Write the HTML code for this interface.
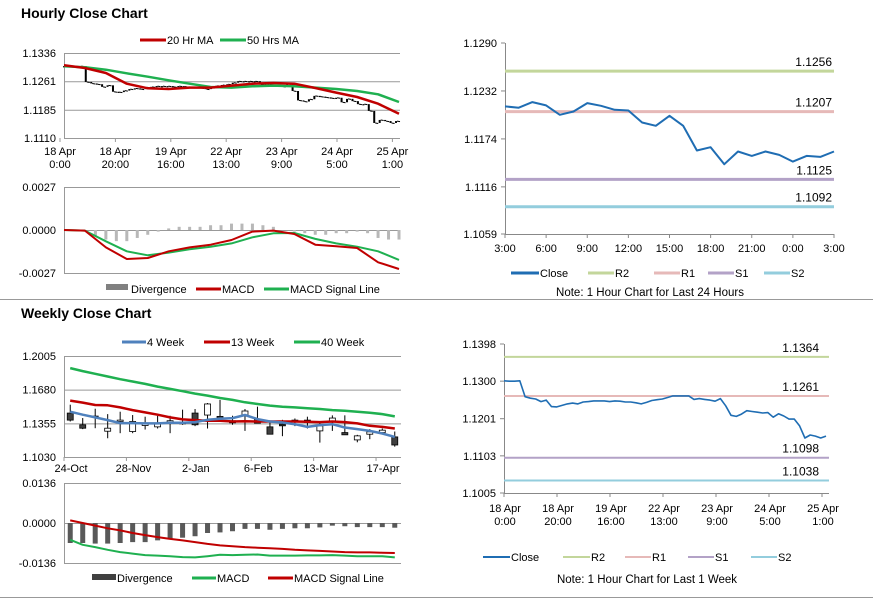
<!DOCTYPE html>
<html><head><meta charset="utf-8">
<style>
html,body{margin:0;padding:0;background:#fff;}
svg{display:block;font-family:"Liberation Sans",Arial,sans-serif;}
</style></head>
<body>
<svg id="c" width="873" height="601" viewBox="0 0 873 601"></svg>
<script>
const hourlyClose=[1.1301,1.1300,1.1300,1.1301,1.1259,1.1255,1.1253,1.1246,1.1250,1.1233,1.1232,1.1236,1.1240,1.1242,1.1240,1.1245,1.1246,1.1248,1.1248,1.1248,1.1246,1.1248,1.1247,1.1245,1.1245,1.1243,1.1240,1.1244,1.1249,1.1251,1.1253,1.1257,1.1261,1.1261,1.1261,1.1261,1.1252,1.1254,1.1252,1.1250,1.1247,1.1254,1.1235,1.1210,1.1207,1.1213,1.1222,1.1220,1.1218,1.1216,1.1217,1.1205,1.1214,1.1208,1.1200,1.1200,1.1182,1.1150,1.1158,1.1155,1.1150,1.1155];
const ma20=[1.13032,1.12961,1.12828,1.12545,1.12421,1.12403,1.12439,1.12439,1.12492,1.12545,1.12563,1.12545,1.1243,1.12306,1.1219,1.12013,1.11747];
const ma50=[1.13006,1.12979,1.12917,1.1282,1.12731,1.12634,1.12545,1.12456,1.12439,1.12474,1.12492,1.12474,1.12439,1.12403,1.1235,1.12261,1.12058];
const hMacd=[0,-0.00004,-0.00109,-0.00182,-0.00176,-0.00134,-0.00109,-0.00092,-0.00063,-0.0001,-0.00004,-0.00025,-0.00092,-0.00102,-0.00113,-0.00203,-0.00245];
const hSignal=[0,-0.00004,-0.00071,-0.00134,-0.00159,-0.00142,-0.00121,-0.00105,-0.00084,-0.00046,-0.00021,-0.00019,-0.00056,-0.00084,-0.00105,-0.00134,-0.00188];
const hDiv=[0,0,-0.0001,-0.0004,-0.0006,-0.0007,-0.0007,-0.0005,-0.0003,-0.0001,0.0001,0.0002,0.0002,0.0002,0.0003,0.0003,0.0004,0.0004,0.0004,0.0003,0.0002,0,-0.0001,-0.0002,-0.0003,-0.0003,-0.0002,-0.0002,-0.0001,-0.0002,-0.0005,-0.0006,-0.0006];
const hourTicks=[["18 Apr","0:00"],["18 Apr","20:00"],["19 Apr","16:00"],["22 Apr","13:00"],["23 Apr","9:00"],["24 Apr","5:00"],["25 Apr","1:00"]];
const dayClose=[1.12133,1.12117,1.12185,1.12145,1.12032,1.12072,1.12173,1.12141,1.12092,1.12084,1.11939,1.11898,1.1202,1.11898,1.116,1.1164,1.11434,1.11588,1.11535,1.11588,1.11547,1.11466,1.11535,1.11523,1.11588];
const dayTicks=["3:00","6:00","9:00","12:00","15:00","18:00","21:00","0:00","3:00"];
const dayLevels=[1.1256,1.1207,1.1125,1.1092];
const weekLevels=[1.1364,1.1261,1.1098,1.1038];
const wOpen=[1.1454,1.1341,1.1425,1.1279,1.1373,1.1276,1.1334,1.1321,1.1367,1.1351,1.1454,1.1435,1.1422,1.1380,1.1428,1.1396,1.1321,1.1347,1.1386,1.1386,1.1282,1.1373,1.1266,1.1195,1.1250,1.1266,1.1224];
const wHigh=[1.1535,1.1406,1.1496,1.1444,1.1467,1.1435,1.1419,1.1428,1.1428,1.1487,1.1493,1.1551,1.1581,1.1428,1.1493,1.1516,1.1380,1.1389,1.1402,1.1419,1.1370,1.1432,1.1432,1.1244,1.1299,1.1305,1.1276];
const wLow=[1.1373,1.1299,1.1308,1.1211,1.1260,1.1260,1.1295,1.1305,1.1260,1.1341,1.1328,1.1305,1.1396,1.1341,1.1282,1.1357,1.1250,1.1231,1.1328,1.1305,1.1169,1.1282,1.1244,1.1172,1.1202,1.1250,1.1130];
const wClose=[1.1386,1.1308,1.1415,1.1308,1.1386,1.1373,1.1354,1.1354,1.1380,1.1360,1.1341,1.1542,1.1406,1.1360,1.1474,1.1357,1.1250,1.1331,1.1380,1.1363,1.1331,1.1406,1.1244,1.1234,1.1273,1.1289,1.1146];
const wk4=[1.1467,1.1438,1.1412,1.1386,1.1357,1.1357,1.1354,1.1354,1.1360,1.1360,1.1367,1.1389,1.1399,1.1406,1.1435,1.1396,1.1373,1.1363,1.1347,1.1321,1.1338,1.1347,1.1315,1.1299,1.1282,1.1257,1.1224];
const wk13=[1.1574,1.1555,1.1532,1.1529,1.1509,1.1483,1.1461,1.1438,1.1412,1.1393,1.1386,1.1380,1.1380,1.1373,1.1376,1.1373,1.1373,1.1373,1.1373,1.1370,1.1367,1.1373,1.1367,1.1354,1.1331,1.1321,1.1305];
const wk40=[1.1888,1.1859,1.1833,1.1807,1.1781,1.1759,1.1736,1.1710,1.1687,1.1665,1.1642,1.1623,1.1600,1.1581,1.1558,1.1542,1.1526,1.1516,1.1509,1.1500,1.1493,1.1483,1.1477,1.1467,1.1457,1.1444,1.1422];
const wDiv=[-0.0068,-0.0068,-0.0070,-0.0070,-0.0068,-0.0065,-0.0065,-0.0059,-0.0054,-0.0050,-0.0045,-0.0034,-0.0032,-0.0028,-0.0020,-0.0020,-0.0023,-0.0020,-0.0018,-0.0018,-0.0015,-0.0009,-0.0011,-0.0014,-0.0014,-0.0014,-0.0016];
const wMacd=[-0.0057,-0.0074,-0.0082,-0.0091,-0.0099,-0.0104,-0.0109,-0.0111,-0.0113,-0.0116,-0.0117,-0.0113,-0.0108,-0.0109,-0.0108,-0.0107,-0.0111,-0.0111,-0.0111,-0.0110,-0.0110,-0.0109,-0.0111,-0.0113,-0.0113,-0.0113,-0.0117];
const wSignal=[0.0009,0,-0.0009,-0.0018,-0.0025,-0.0034,-0.0041,-0.0048,-0.0054,-0.0059,-0.0065,-0.0071,-0.0076,-0.0079,-0.0082,-0.0084,-0.0086,-0.0088,-0.0091,-0.0093,-0.0095,-0.0097,-0.0099,-0.0100,-0.0100,-0.0101,-0.0102];
const wTicks=["24-Oct","28-Nov","2-Jan","6-Feb","13-Mar","17-Apr"];

const svg=document.getElementById('c');
const NS='http://www.w3.org/2000/svg';
function el(tag,attrs,parent){const e=document.createElementNS(NS,tag);for(const k in attrs)e.setAttribute(k,attrs[k]);(parent||svg).appendChild(e);return e;}
function lin(d0,d1,r0,r1){return v=>r0+(v-d0)/(d1-d0)*(r1-r0);}
function txt(x,y,s,opt){const t=el('text',Object.assign({x:x,y:y,'font-size':11,fill:'#000'},opt||{}));t.textContent=s;return t;}
function pathOf(arr,fx,fy){return arr.map((v,i)=>(i?'L':'M')+fx(i).toFixed(1)+' '+fy(v).toFixed(1)).join(' ');}
function line(arr,fx,fy,color,w,name){const p=el('path',{d:pathOf(arr,fx,fy),fill:'none',stroke:color,'stroke-width':w,'stroke-linejoin':'round'});


return p;}
function legendLine(x,y,w,color,label,name,th){const g=el('g',{});


el('line',{x1:x,y1:y-4,x2:x+w,y2:y-4,stroke:color,'stroke-width':th||3},g);const t=txt(x+w+1,y,label);g.appendChild(t);}
function hgrid(y,x1,x2,c){el('line',{x1:x1,y1:y,x2:x2,y2:y,stroke:c||'#999','stroke-width':1});}

hgrid(299.5,0,873,'#999');hgrid(597.5,0,873,'#999');
let t=txt(21,18,'Hourly Close Chart',{'font-size':14,'font-weight':'bold'});


t=txt(21,318,'Weekly Close Chart',{'font-size':14,'font-weight':'bold'});



(function(){
const X0=64,X1=400;const fy=lin(1.1110,1.1336,138,53);
['1.1336','1.1261','1.1185','1.1110'].forEach(s=>{const v=+s;hgrid(fy(v)+0.5,X0,X1);txt(56,fy(v)+4,s,{'text-anchor':'end'});});
el('line',{x1:X0+0.5,y1:53,x2:X0+0.5,y2:138,stroke:'#999'});
hourTicks.forEach((tk,i)=>{const x=60+i*55.4;el('line',{x1:x,y1:138,x2:x,y2:142,stroke:'#999'});txt(x,155,tk[0],{'text-anchor':'middle'});txt(x,168,tk[1],{'text-anchor':'middle'});});
const fx=lin(0,hourlyClose.length-1,64,396);
hourlyClose.forEach((v,i)=>{const p=i?hourlyClose[i-1]:v;const y1=Math.min(fy(p),fy(v)),h=Math.max(1.2,Math.abs(fy(p)-fy(v)));
const r=el('rect',{x:fx(i)-1,y:y1,width:2,height:h,fill:'#000'});


el('line',{x1:fx(i)+1,y1:fy(v),x2:fx(i)+4,y2:fy(v)+0.5,stroke:'#000','stroke-width':1});});
const fm=lin(0,16,64,399);
line(ma50,fm,fy,'#1fb050',2.5,'ma-50-line');
line(ma20,fm,fy,'#c00000',2.5,'ma-20-line');
legendLine(140,44,26,'#c00000','20 Hr MA','legend-ma20');
legendLine(220,44,26,'#1fb050','50 Hrs MA','legend-ma50');
})();

(function(){
const X0=64,X1=400;const fy=lin(-0.0027,0.0027,273,187);
[['0.0027',0.0027],['0.0000',0],['-0.0027',-0.0027]].forEach(a=>{hgrid(fy(a[1])+0.5,X0,X1);txt(56,fy(a[1])+4,a[0],{'text-anchor':'end'});});
el('line',{x1:X0+0.5,y1:187,x2:X0+0.5,y2:273,stroke:'#999'});
const fd=lin(0,hDiv.length-1,64,399);
hDiv.forEach((v,i)=>{const y=Math.min(fy(0),fy(v)),h=Math.abs(fy(v)-fy(0));
const r=el('rect',{x:fd(i)-1.5,y:y,width:3,height:h,fill:'#b8b8b8'});

});
const fm=lin(0,16,64,399);
line(hSignal,fm,fy,'#1fb050',2,'hourly-signal-line');
line(hMacd,fm,fy,'#c00000',2,'hourly-macd-line');
const g=el('g',{});


el('rect',{x:106,y:284,width:22,height:6,fill:'#808080'},g);g.appendChild(txt(131,293,'Divergence'));
legendLine(196,293,25,'#c00000','MACD','legend-macd');
legendLine(264,293,25,'#1fb050','MACD Signal Line','legend-signal');
})();

(function(){
const X0=505,X1=834;const fy=lin(1.1059,1.1290,234,43);
['1.1290','1.1232','1.1174','1.1116','1.1059'].forEach(s=>{const y=fy(+s);el('line',{x1:501,y1:y,x2:505,y2:y,stroke:'#888'});txt(497,y+4,s,{'text-anchor':'end'});});
el('line',{x1:X0+0.5,y1:43,x2:X0+0.5,y2:234,stroke:'#888'});
el('line',{x1:X0,y1:234.5,x2:X1,y2:234.5,stroke:'#888'});
dayTicks.forEach((s,i)=>{const x=X0+i*(X1-X0)/8;el('line',{x1:x,y1:234,x2:x,y2:238,stroke:'#888'});txt(x,252,s,{'text-anchor':'middle'});});
const cols=['#c3d69b','#e6b9b8','#b3a2c7','#93cddd'];const nm=['r2','r1','s1','s2'];
dayLevels.forEach((v,i)=>{const l=el('line',{x1:X0,y1:fy(v),x2:X1,y2:fy(v),stroke:cols[i],'stroke-width':3});


txt(832,fy(v)-5,v.toFixed(4),{'text-anchor':'end','font-size':12});});
const fx=lin(0,24,X0,X1);
line(dayClose,fx,fy,'#1f6db3',2,'day-close-line');
legendLine(511,277,28,'#1f6db3','Close','legend-close');
legendLine(588,277,26,cols[0],'R2','legend-r2');
legendLine(654,277,26,cols[1],'R1','legend-r1');
legendLine(708,277,26,cols[2],'S1','legend-s1');
legendLine(764,277,26,cols[3],'S2','legend-s2');
txt(650,296,'Note: 1 Hour Chart for Last 24 Hours',{'text-anchor':'middle','font-size':11.5});
})();

(function(){
const X0=64,X1=401;const fy=lin(1.1030,1.2005,457,356);
['1.2005','1.1680','1.1355','1.1030'].forEach(s=>{const y=fy(+s);hgrid(y+0.5,X0,X1);txt(56,y+4,s,{'text-anchor':'end'});});
el('line',{x1:X0+0.5,y1:356,x2:X0+0.5,y2:457,stroke:'#999'});
const step=(X1-X0)/27;const fx=i=>X0+step*(i+0.5);
wTicks.forEach((s,i)=>{const x=X0+i*5*step;el('line',{x1:x,y1:457,x2:x,y2:461,stroke:'#999'});txt(x+7,472,s,{'text-anchor':'middle'});});
wOpen.forEach((o,i)=>{const c=wClose[i];const x=fx(i);
const w=el('line',{x1:x,y1:fy(wHigh[i]),x2:x,y2:fy(wLow[i]),stroke:'#000','stroke-width':1});


const top=Math.min(fy(o),fy(c)),h=Math.max(1,Math.abs(fy(o)-fy(c)));
const r=el('rect',{x:x-3,y:top,width:6,height:h,fill:c<o?'#404040':'#fff',stroke:'#000','stroke-width':0.8});

});
line(wk40,fx,fy,'#1fb050',2.5,'ma-40-week-line');
line(wk13,fx,fy,'#c00000',2.5,'ma-13-week-line');
line(wk4,fx,fy,'#4f81bd',2.5,'ma-4-week-line');
legendLine(122,346,24,'#4f81bd','4 Week','legend-4week');
legendLine(204,346,26,'#c00000','13 Week','legend-13week');
legendLine(294,346,26,'#1fb050','40 Week','legend-40week');
})();

(function(){
const X0=64,X1=401;const fy=lin(-0.0136,0.0136,563,483);
[['0.0136',0.0136],['0.0000',0],['-0.0136',-0.0136]].forEach(a=>{hgrid(fy(a[1])+0.5,X0,X1);txt(56,fy(a[1])+4,a[0],{'text-anchor':'end'});});
el('line',{x1:X0+0.5,y1:483,x2:X0+0.5,y2:563,stroke:'#999'});
const step=(X1-X0)/27;const fx=i=>X0+step*(i+0.5);
wDiv.forEach((v,i)=>{const r=el('rect',{x:fx(i)-2.5,y:fy(0),width:5,height:fy(v)-fy(0),fill:'#595959'});

});
line(wMacd,fx,fy,'#1fb050',2,'weekly-macd-line');
line(wSignal,fx,fy,'#c00000',2,'weekly-signal-line');
const g=el('g',{});


el('rect',{x:92,y:574,width:24,height:6,fill:'#404040'},g);g.appendChild(txt(117,582,'Divergence'));
legendLine(192,582,24,'#1fb050','MACD','legend-weekly-macd');
legendLine(268,582,25,'#c00000','MACD Signal Line','legend-weekly-signal');
})();

(function(){
const X0=504,X1=829;const fy=lin(1.1005,1.1398,493,344);
['1.1398','1.1300','1.1201','1.1103','1.1005'].forEach(s=>{const y=fy(+s);el('line',{x1:500,y1:y,x2:504,y2:y,stroke:'#888'});txt(496,y+4,s,{'text-anchor':'end'});});
el('line',{x1:X0+0.5,y1:344,x2:X0+0.5,y2:493,stroke:'#888'});
el('line',{x1:X0,y1:493.5,x2:X1,y2:493.5,stroke:'#888'});
hourTicks.forEach((tk,i)=>{const x=X0+i*53;el('line',{x1:x,y1:493,x2:x,y2:497,stroke:'#888'});txt(x+1,512,tk[0],{'text-anchor':'middle'});txt(x+1,525,tk[1],{'text-anchor':'middle'});});
const cols=['#c3d69b','#e6b9b8','#b3a2c7','#93cddd'];const nm=['r2','r1','s1','s2'];
weekLevels.forEach((v,i)=>{const l=el('line',{x1:X0,y1:fy(v),x2:X1,y2:fy(v),stroke:cols[i],'stroke-width':2});


txt(819,fy(v)-5,v.toFixed(4),{'text-anchor':'end','font-size':12});});
const fx=lin(0,hourlyClose.length-1,X0,826);
line(hourlyClose,fx,fy,'#1f6db3',1.6,'week-close-line');
legendLine(483,561,27,'#1f6db3','Close','legend-week-close',2);
legendLine(563,561,27,cols[0],'R2','legend-week-r2',2);
legendLine(625,561,26,cols[1],'R1','legend-week-r1',2);
legendLine(688,561,26,cols[2],'S1','legend-week-s1',2);
legendLine(751,561,26,cols[3],'S2','legend-week-s2',2);
txt(647,583,'Note: 1 Hour Chart for Last 1 Week',{'text-anchor':'middle','font-size':11.5});
})();
</script>
</body></html>
